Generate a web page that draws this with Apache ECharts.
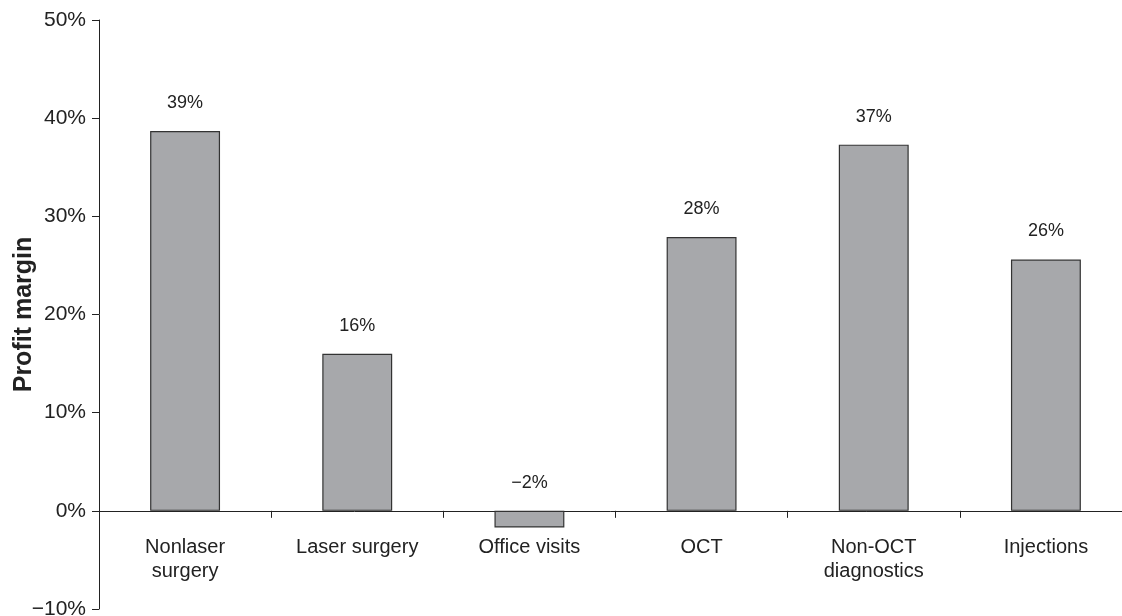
<!DOCTYPE html>
<html>
<head>
<meta charset="utf-8">
<script src="https://cdn.jsdelivr.net/npm/echarts@6/dist/echarts.min.js"></script>
<style>
  html, body { margin: 0; padding: 0; background: #fff; }
  #chart { width: 1122px; height: 616px; }
</style>
</head>
<body>
<div id="chart"></div>
<script>
const categories = ['Nonlaser\nsurgery', 'Laser surgery', 'Office visits', 'OCT', 'Non-OCT\ndiagnostics', 'Injections']
const margins = [38.7, 16.0, -1.7, 27.9, 37.3, 25.6]
const yTicks = [-10, 0, 10, 20, 30, 40, 50]

const chart = echarts.init(document.getElementById('chart'))

const option = {
  animation: false,
  grid: { left: 99, top: 20, width: 1033, height: 589, containLabel: false, outerBoundsMode: 'none' },
  xAxis: {
    type: 'category',
    data: categories,
    axisLine: { onZero: true, lineStyle: { color: '#222', width: 1 } },
    axisTick: { show: true, alignWithLabel: false, length: 7, lineStyle: { color: '#222' } },
    axisLabel: {
      // labels sit at the grid bottom in v6, pull them up under the zero line
      color: '#222', fontSize: 20, fontFamily: 'Liberation Sans, Arial, sans-serif',
      margin: -74, lineHeight: 24, interval: 0
    }
  },
  yAxis: {
    type: 'value',
    min: yTicks[0],
    max: yTicks[yTicks.length - 1],
    interval: 10,
    name: 'Profit margin',
    nameLocation: 'middle',
    nameGap: 62,
    nameMoveOverlap: false,
    nameRotate: 90,
    nameTextStyle: {
      color: '#222', fontSize: 25, fontWeight: 'bold',
      fontFamily: 'Liberation Sans, Arial, sans-serif'
    },
    splitLine: { show: false },
    axisLine: { show: true, lineStyle: { color: '#222', width: 1 } },
    axisTick: { show: true, inside: false, length: 7, lineStyle: { color: '#222' } },
    axisLabel: {
      color: '#222', fontSize: 21, margin: 13,
      fontFamily: 'Liberation Sans, Arial, sans-serif',
      formatter: v => (v < 0 ? '\u2212' + Math.abs(v) : v) + '%'
    }
  },
  series: [{
    type: 'bar',
    data: margins,
    barWidth: '40.6%',
    itemStyle: { color: '#a7a8ab', borderColor: '#333', borderWidth: 1.2 },
    label: {
      show: true,
      position: 'top',
      distance: 19,
      color: '#222',
      fontSize: 18,
      fontFamily: 'Liberation Sans, Arial, sans-serif',
      formatter: p => {
        const r = Math.round(p.value)
        return (r < 0 ? '\u2212' + Math.abs(r) : r) + '%'
      }
    }
  }]
}

chart.setOption(option)
window.onresize = function () {
  chart.resize()
}
</script>
</body>
</html>
